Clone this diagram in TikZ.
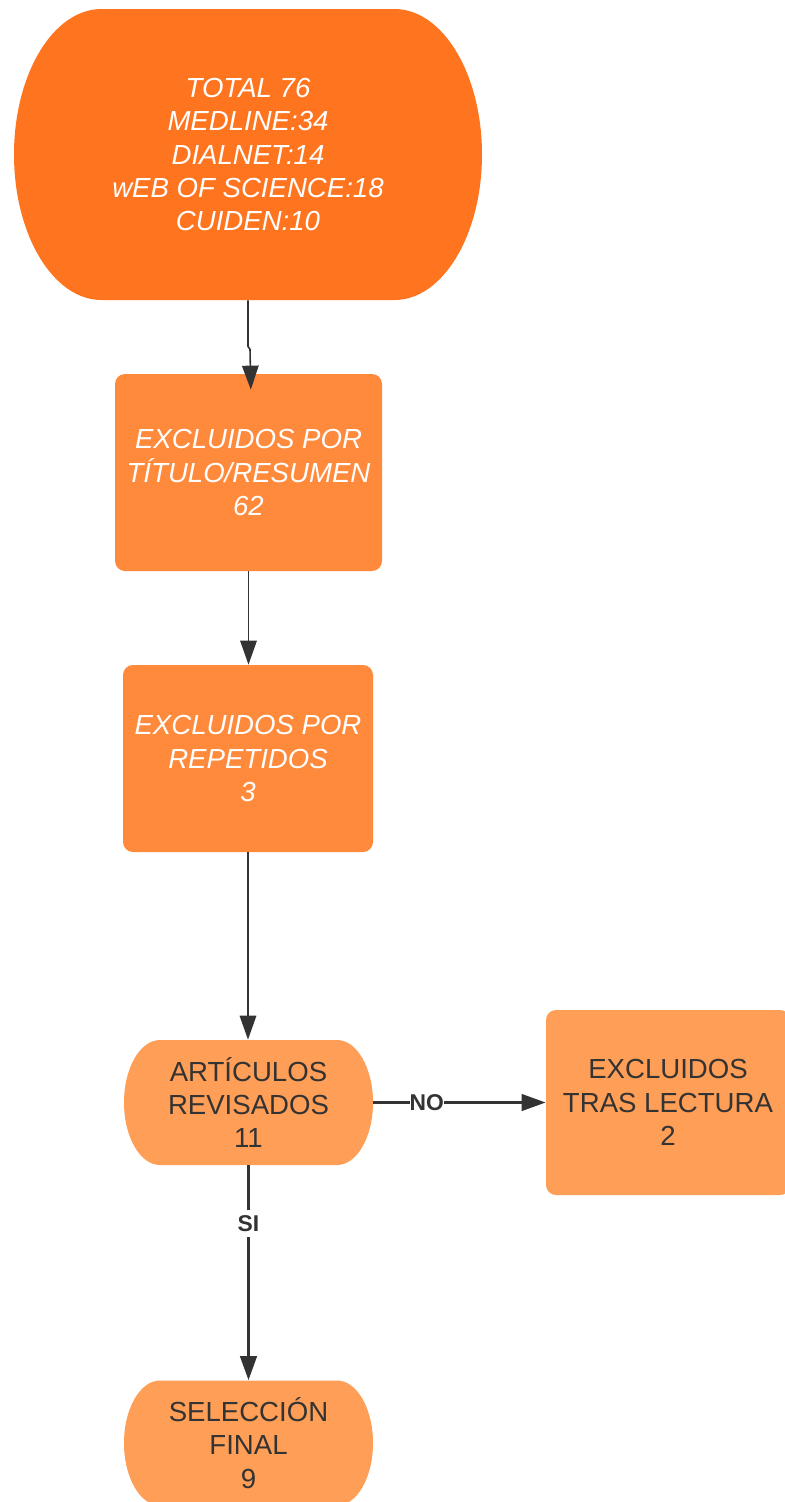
\documentclass[tikz,border=0pt]{standalone}
\usepackage{fontspec}
\setmainfont{Liberation Sans}
\usetikzlibrary{arrows.meta}
\definecolor{flowdark}{RGB}{51,51,51}
\definecolor{orangetop}{RGB}{255,117,31}
\definecolor{orangemid}{RGB}{255,138,60}
\definecolor{orangelow}{RGB}{255,158,86}
\tikzset{
  pill/.style n args={4}{minimum width=#1, minimum height=#2, inner sep=0pt, align=center,
    path picture={\fill[#4] ([xshift=#3]path picture bounding box.north west)
      -- ([xshift=-#3]path picture bounding box.north east)
      arc[start angle=90, end angle=-90, x radius=#3, y radius=#2/2]
      -- ([xshift=#3]path picture bounding box.south west)
      arc[start angle=270, end angle=90, x radius=#3, y radius=#2/2] -- cycle;}},
  stepbox/.style n args={3}{rounded corners=0.2cm, fill=#3, minimum width=#1,
    minimum height=#2, inner sep=0pt, align=center},
  whitetext/.style={text=white, font=\fontsize{15.7}{19}\selectfont\itshape},
  darktext/.style={text=flowdark, font=\fontsize{15.7}{19}\selectfont},
  flow/.style={draw=flowdark, line width=0.9pt, -{Triangle[length=0.48cm,width=0.33cm]}},
  thickflow/.style={flow, line width=1.6pt},
  lbl/.style={fill=white, text=flowdark, inner xsep=0pt, inner ysep=3pt,
    font=\fontsize{13}{15}\selectfont\bfseries}
}
\begin{document}
\begin{tikzpicture}
  \path[use as bounding box, fill=white] (0,0) rectangle (15.7,-30.04);
  % search results
  \node[pill={9.36cm}{5.82cm}{1.75cm}{orangetop}, whitetext] (total) at (4.96,-3.09)
    {TOTAL 76\\MEDLINE:34\\DIALNET:14\\wEB OF SCIENCE:18\\CUIDEN:10};
  % exclusions
  \node[stepbox={5.34cm}{3.94cm}{orangemid}, whitetext] (titulo) at (4.97,-9.45)
    {EXCLUIDOS POR\\TÍTULO/RESUMEN\\62};
  \node[stepbox={5.0cm}{3.74cm}{orangemid}, whitetext] (repetidos) at (4.96,-15.17)
    {EXCLUIDOS POR\\REPETIDOS\\3};
  % review
  \node[pill={4.98cm}{2.5cm}{0.72cm}{orangelow}, darktext] (revisados) at (4.97,-22.05)
    {ARTÍCULOS\\REVISADOS\\11};
  \node[stepbox={4.88cm}{3.7cm}{orangelow}, darktext] (lectura) at (13.36,-22.05)
    {EXCLUIDOS\\TRAS LECTURA\\2};
  \node[pill={4.98cm}{2.5cm}{0.72cm}{orangelow}, darktext] (final) at (4.97,-28.86)
    {SELECCIÓN\\FINAL\\9};
  % arrows
  \draw[flow, shorten >=-0.32cm] (total.south) -- ++(0,-0.92) -- ++(0.04,-0.06)
    -- ([xshift=0.04cm]titulo.north);
  \draw[flow] (titulo.south) -- (titulo.south |- repetidos.north);
  \draw[flow] (repetidos.south) -- (repetidos.south |- revisados.north);
  \draw[thickflow] (revisados.east) -- node[lbl, pos=0.31] {NO} (lectura.west);
  \draw[thickflow] (revisados.south) -- node[lbl, pos=0.27] {SI} (final.north);
\end{tikzpicture}
\end{document}
